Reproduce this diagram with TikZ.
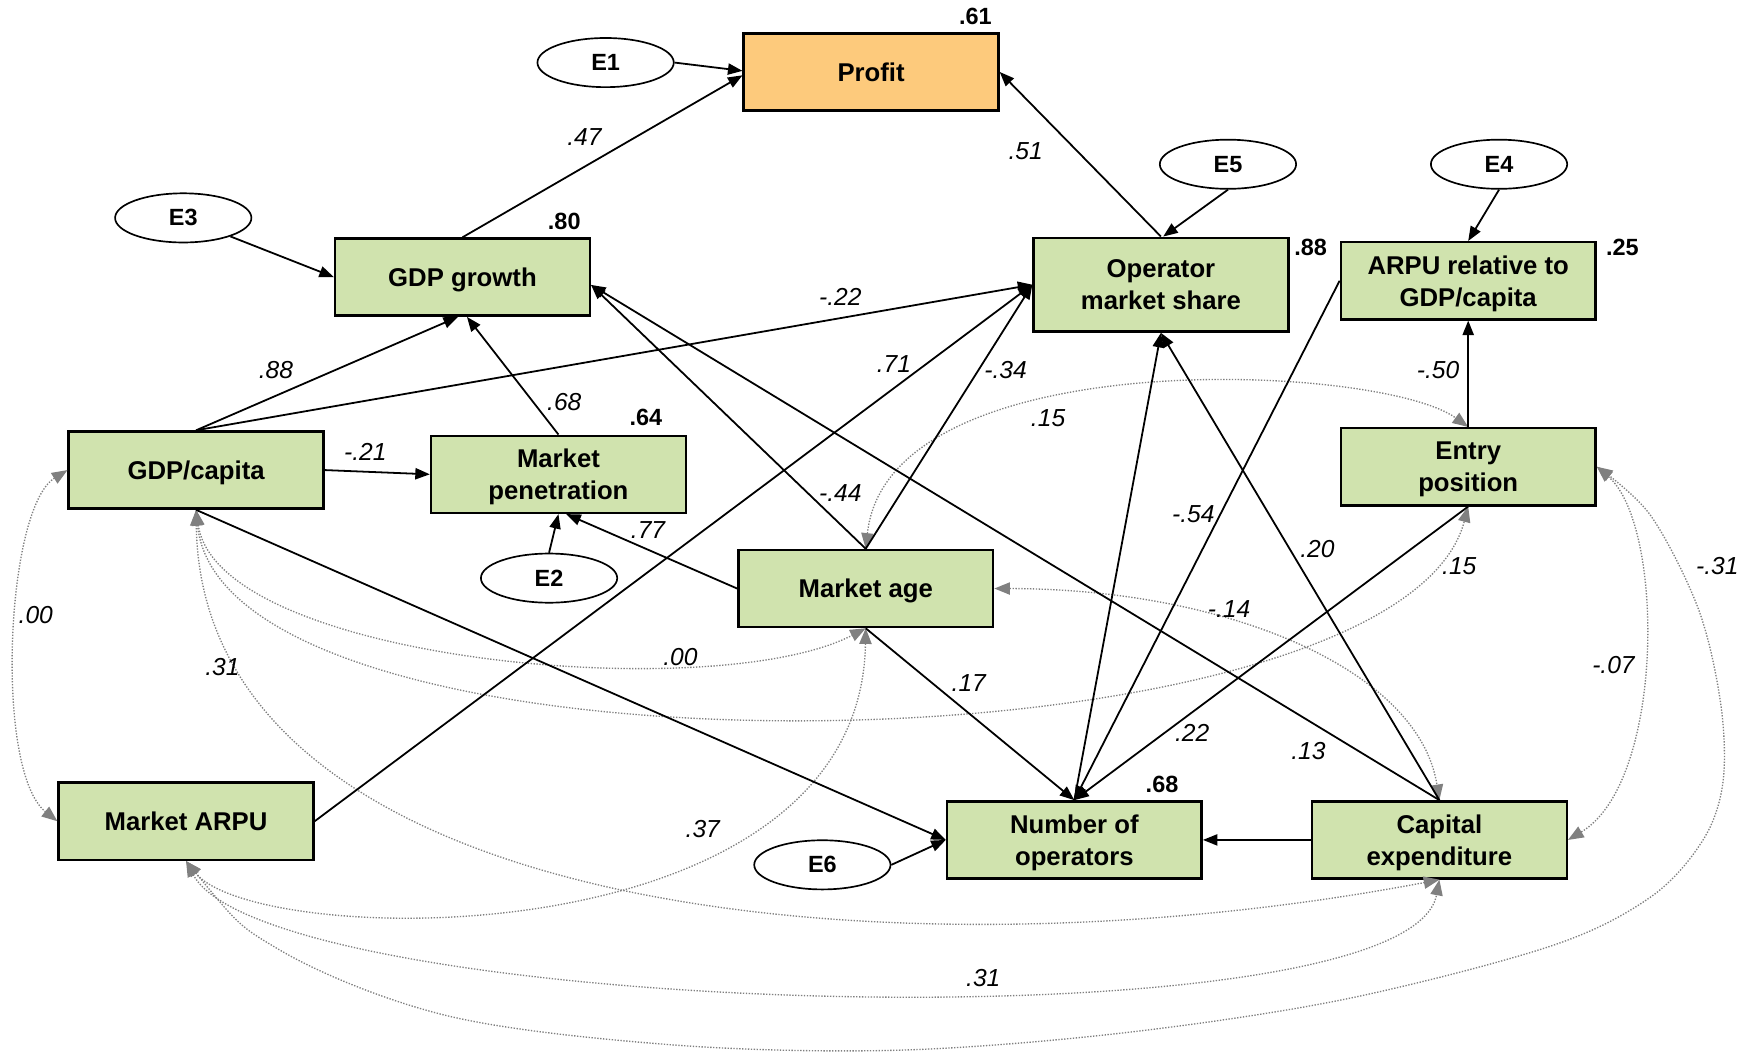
\documentclass[tikz,border=0pt]{standalone}
\usepackage{fontspec}
\setmainfont{Liberation Sans}
\usetikzlibrary{arrows.meta,shapes.geometric,calc}
\definecolor{boxgreen}{RGB}{208,227,174}
\definecolor{profitorange}{RGB}{253,202,124}
\definecolor{covgray}{RGB}{128,128,128}
\begin{document}
\begin{tikzpicture}[x=1pt,y=-1pt,
  box/.style={draw, line width=2.2pt, fill=boxgreen, minimum width=228pt, minimum height=69pt,
    align=center, inner sep=0pt, text depth=0pt, font=\fontsize{23}{28.5}\selectfont\bfseries},
  err/.style={ellipse, draw, line width=1.5pt, fill=white, minimum width=122pt, minimum height=44pt,
    inner sep=0pt, font=\fontsize{21}{24}\selectfont\bfseries},
  arr/.style={line width=1.6pt, -{Triangle[length=13pt,width=10pt]}},
  cov/.style={draw=covgray, line width=1.2pt, dash pattern=on 1.2pt off 1.4pt,
    {Triangle[length=14pt,width=11pt,fill=covgray]}-{Triangle[length=14pt,width=11pt,fill=covgray]}},
  coef/.style={inner sep=0pt, font=\fontsize{22}{24}\selectfont\itshape},
  rsq/.style={inner sep=0pt, font=\fontsize{21}{24}\selectfont\bfseries}]
\useasboundingbox (0,0) rectangle (1568,943);

% boxes
\node[box, fill=profitorange] (profit) at (779.6,64.4) {Profit};
\node[box] (gdpg) at (413.9,248) {GDP growth};
\node[box, minimum height=84pt] (oms) at (1039,254.8) {Operator\\market share};
\node[box] (arpu) at (1314,251.3) {ARPU relative to\\GDP/capita};
\node[box] (gdpc) at (175.5,420.7) {GDP/capita};
\node[box] (mp) at (499.8,424.5) {Market\\penetration};
\node[box] (ep) at (1314,417.7) {Entry\\position};
\node[box] (ma) at (774.8,526.7) {Market age};
\node[box] (marpu) at (166.5,735) {Market ARPU};
\node[box] (noo) at (961.5,751.7) {Number of\\operators};
\node[box] (capex) at (1288.2,751.7) {Capital\\expenditure};

% error terms
\node[err] (e1) at (542,56) {E1};
\node[err] (e3) at (164,195) {E3};
\node[err] (e5) at (1099,147) {E5};
\node[err] (e4) at (1341.6,147) {E4};
\node[err] (e2) at (491.4,517.4) {E2};
\node[err] (e6) at (736,774) {E6};

% covariances
\draw[cov] (gdpc.west) .. controls (5,455) and (-5,690) .. (marpu.west);
\draw[cov] (gdpc.south) .. controls (195,592) and (640,632) .. (ma.south);
\draw[cov] (gdpc.south) .. controls (200,712) and (1250,696) .. (ep.south);
\draw[cov] (gdpc.south) .. controls (180,820) and (800,880) .. (capex.south);
\draw[cov] (ma.north) .. controls (795,305) and (1235,325) .. (ep.north);
\draw[cov] (ma.east) .. controls (1100,527) and (1270,600) .. (capex.north);
\draw[cov] (ep.east) .. controls (1490,470) and (1490,700) .. (capex.east);
\draw[cov] (marpu.south) .. controls (230,850) and (770,860) .. (ma.south);
\draw[cov] (marpu.south) .. controls (240,910) and (1260,940) .. (capex.south);
\draw[cov] plot[smooth, tension=0.55] coordinates {(marpu.south) (250,850) (400,909) (600,935) (800,940) (1000,925) (1200,895) (1387,847) (1477,803) (1524,752) (1542,700) (1540,630) (1520,545) (1477,461) (ep.east)};

% directed paths
\draw[arr] (e1.east) -- ($(profit.west)+(0,-1)$);
\draw[arr] (gdpg.north) -- ($(profit.west)+(0,3)$);
\draw[arr] (oms.north) -- (profit.east);
\draw[arr] (e5.south) -- ($(oms.north)+(2,0)$);
\draw[arr] (e4.south) -- (arpu.north);
\draw[arr] (e3) -- (gdpg.west);
\draw[arr] (gdpc.north) -- ($(gdpg.south)+(-4,0)$);
\draw[arr] (mp.north) -- ($(gdpg.south)+(4,0)$);
\draw[arr] (gdpc.north) -- (oms.west);
\draw[arr] (gdpc.east) -- (mp.west);
\draw[arr] (e2.north) -- (mp.south);
\draw[arr] (ma.west) -- ($(mp.south)+(7,0)$);
\draw[arr] (ma.north) -- ($(gdpg.east)+(0,7)$);
\draw[arr] (ma.north) -- (oms.west);
\draw[arr] (marpu.east) -- (oms.west);
\draw[arr] (capex.north) -- ($(gdpg.east)+(0,7)$);
\draw[arr] (capex.north) -- (oms.south);
\draw[arr] (noo.north) -- (oms.south);
\draw[arr] (arpu.west) -- (noo.north);
\draw[arr] (ma.south) -- (noo.north);
\draw[arr] (ep.south) -- (noo.north);
\draw[arr] (ep.north) -- (arpu.south);
\draw[arr] (gdpc.south) -- (noo.west);
\draw[arr] (e6.east) -- (noo.west);
\draw[arr] (capex.west) -- (noo.east);

% R squared
\node[rsq] (r1) at (873,15) {.61};
\node[rsq] (r2) at (505,198) {.80};
\node[rsq] (r3) at (1173,221) {.88};
\node[rsq] (r4) at (1452,221) {.25};
\node[rsq] (r5) at (578,374) {.64};
\node[rsq] (r6) at (1040,702) {.68};

% coefficients
\node[coef] (c1) at (523,123) {.47};
\node[coef] (c2) at (918,135) {.51};
\node[coef] (c3) at (247,331) {.88};
\node[coef] (c4) at (505,360) {.68};
\node[coef] (c5) at (752,266) {-.22};
\node[coef] (c6) at (327,404) {-.21};
\node[coef] (c7) at (800,326) {.71};
\node[coef] (c8) at (900,331) {-.34};
\node[coef] (c9) at (1287,331) {-.50};
\node[coef] (c10) at (938,374) {.15};
\node[coef] (c11) at (752,441) {-.44};
\node[coef] (c12) at (580,474) {.77};
\node[coef] (c13) at (1068,460) {-.54};
\node[coef] (c14) at (1179,491) {.20};
\node[coef] (c15) at (1306,507) {.15};
\node[coef] (c16) at (1100,545) {-.14};
\node[coef] (c17) at (867,611) {.17};
\node[coef] (c18) at (1067,656) {.22};
\node[coef] (c19) at (1171,672) {.13};
\node[coef] (c20) at (32,550) {.00};
\node[coef] (c21) at (199,597) {.31};
\node[coef] (c22) at (609,588) {.00};
\node[coef] (c23) at (629,742) {.37};
\node[coef] (c24) at (880,875) {.31};
\node[coef] (c25) at (1444,595) {-.07};
\node[coef] (c26) at (1537,507) {-.31};
\end{tikzpicture}
\end{document}
